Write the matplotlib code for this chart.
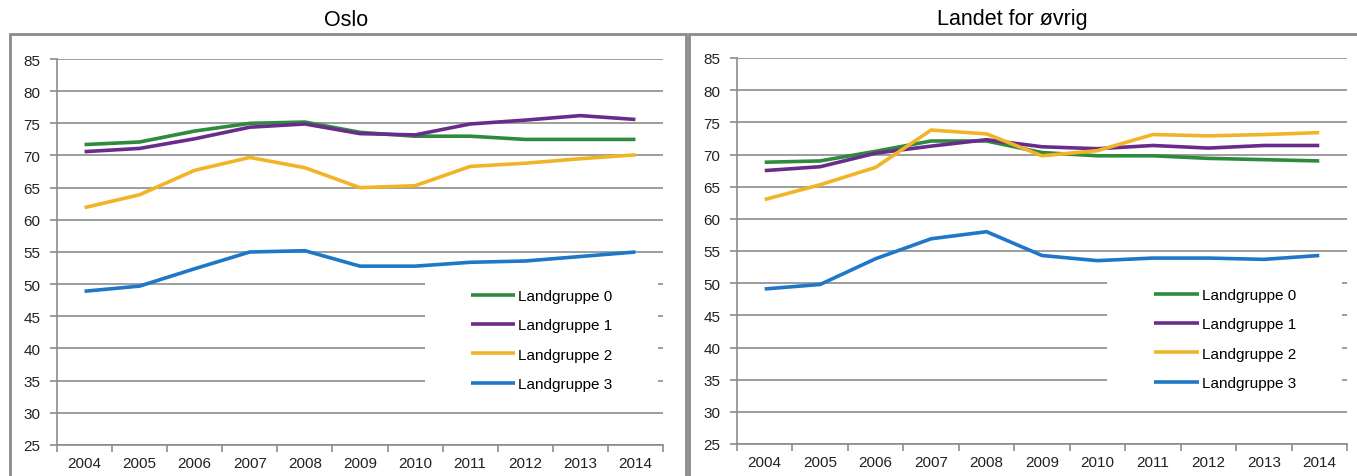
import matplotlib
matplotlib.use("Agg")
import matplotlib.pyplot as plt
from matplotlib.patches import Rectangle

plt.rcParams['font.family'] = ['Liberation Sans', 'DejaVu Sans']

years = ['2004', '2005', '2006', '2007', '2008', '2009', '2010', '2011', '2012', '2013', '2014']
labels = ['Landgruppe 0', 'Landgruppe 1', 'Landgruppe 2', 'Landgruppe 3']
colors = ['#2e8b3d', '#6a2c8c', '#f2b427', '#1f77c8']

# Oslo
oslo_0 = [71.7, 72.1, 73.8, 75.0, 75.2, 73.6, 73.0, 73.0, 72.5, 72.5, 72.5]
oslo_1 = [70.6, 71.1, 72.6, 74.4, 74.9, 73.4, 73.2, 74.9, 75.5, 76.2, 75.6]
oslo_2 = [61.9, 63.9, 67.7, 69.7, 68.1, 65.0, 65.3, 68.3, 68.8, 69.5, 70.1]
oslo_3 = [48.9, 49.7, 52.4, 55.0, 55.2, 52.8, 52.8, 53.4, 53.6, 54.3, 55.0]

# Landet for øvrig
land_0 = [68.8, 69.0, 70.5, 72.1, 72.1, 70.3, 69.8, 69.8, 69.4, 69.2, 69.0]
land_1 = [67.5, 68.1, 70.2, 71.3, 72.3, 71.2, 70.9, 71.4, 71.0, 71.4, 71.4]
land_2 = [63.0, 65.3, 68.0, 73.8, 73.2, 69.8, 70.6, 73.1, 72.9, 73.1, 73.4]
land_3 = [49.1, 49.8, 53.8, 56.9, 58.0, 54.3, 53.5, 53.9, 53.9, 53.7, 54.3]

W, H = 1357, 477
fig = plt.figure(figsize=(W / 100, H / 100), dpi=100)

# panel frames (pixel coords -> figure fraction)
def frame(x0, x1, y0):
    fig.patches.append(Rectangle((x0 / W, -0.05), (x1 - x0) / W, 1.05 - y0 / H,
                                 transform=fig.transFigure, fill=False,
                                 edgecolor='#8a8a8a', linewidth=2))

frame(9.5, 686, 34.5)
frame(689.5, 1380, 34.5)

fig.text(346 / W, 1 - 20 / H, 'Oslo', ha='center', va='center', fontsize=15.5)
fig.text(1012 / W, 1 - 20 / H, 'Landet for øvrig', ha='center', va='center', fontsize=15.5)


def panel(rect, series):
    ax = fig.add_axes(rect)
    for s, c, lab in zip(series, colors, labels):
        ax.plot(range(len(years)), s, color=c, lw=2.6, label=lab,
                solid_capstyle='butt', zorder=3)
    ax.set_ylim(25, 85)
    ax.set_xlim(-0.5, len(years) - 0.5)
    ax.set_yticks(range(25, 90, 5))
    ax.set_xticks(range(len(years)))
    ax.set_xticklabels(years)
    ax.set_xticks([i - 0.5 for i in range(len(years) + 1)], minor=True)
    ax.grid(axis='y', color='#8c8c8c', lw=1.2)
    ax.set_axisbelow(True)
    for sp in ['top', 'right']:
        ax.spines[sp].set_visible(False)
    for sp in ['left', 'bottom']:
        ax.spines[sp].set_color('#8c8c8c')
        ax.spines[sp].set_linewidth(1.2)
    ax.tick_params(axis='y', length=5, width=1.2, color='#8c8c8c', pad=7,
                   labelsize=11, labelcolor='#222222')
    ax.tick_params(axis='x', which='major', length=0, pad=8,
                   labelsize=11, labelcolor='#222222')
    ax.tick_params(axis='x', which='minor', length=5, width=1.2, color='#8c8c8c')
    # white legend area hiding the gridlines
    ax.add_patch(Rectangle((0.607, 0.124), 0.385, 0.327, transform=ax.transAxes,
                           facecolor='white', edgecolor='none', zorder=1.5))
    ax.legend(loc='center', bbox_to_anchor=(0.80, 0.272), frameon=False,
              fontsize=11, handlelength=2.9, handletextpad=0.2,
              labelspacing=1.0, borderaxespad=0)
    return ax


panel([57 / W, 1 - 446 / H, 606 / W, 386 / H], [oslo_0, oslo_1, oslo_2, oslo_3])
panel([737 / W, 1 - 445 / H, 610 / W, 386 / H], [land_0, land_1, land_2, land_3])

fig.savefig('out.png', dpi=100)
